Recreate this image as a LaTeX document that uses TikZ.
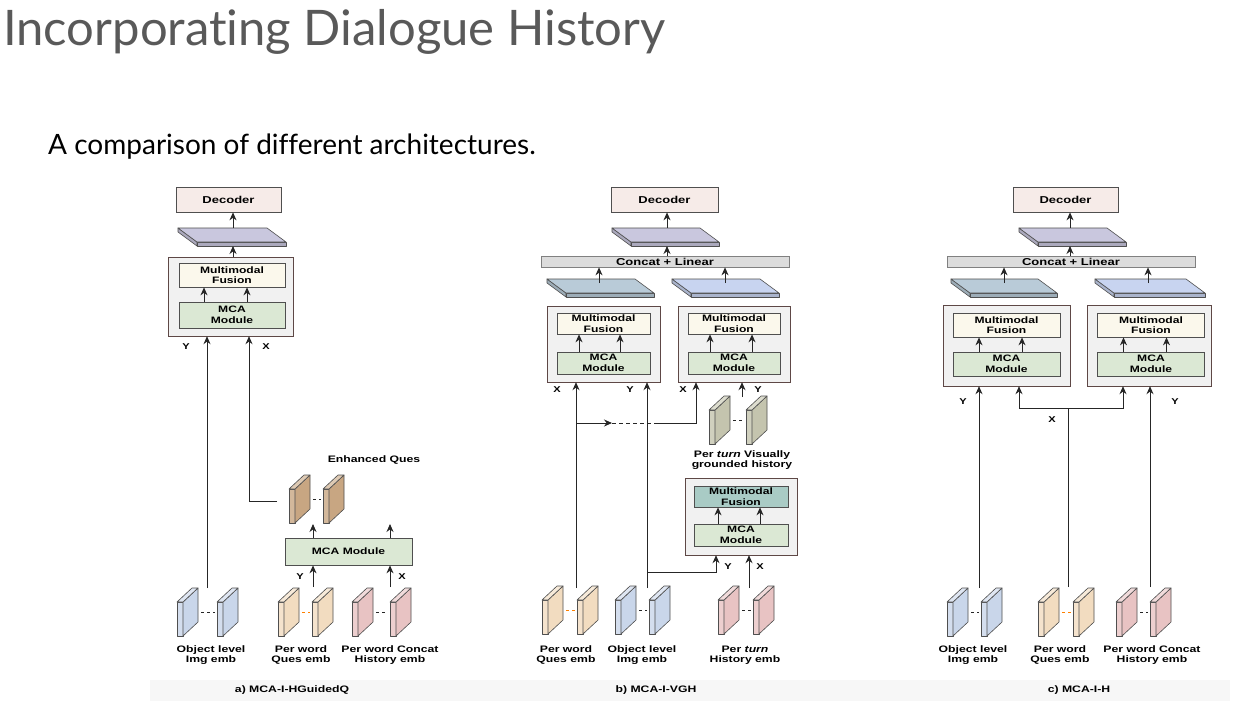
\documentclass[tikz,border=0pt]{standalone}
\usepackage{fontspec}
\setmainfont{Lato}[Ligatures=NoCommon]
\newfontfamily\figfont{Liberation Sans}[FakeStretch=1.3]
\usetikzlibrary{arrows.meta,calc}

\definecolor{titlegray}{HTML}{595959}
\definecolor{lineC}{HTML}{262626}
\definecolor{boxline}{HTML}{4F4F4F}
\definecolor{outline}{HTML}{5E4846}
\definecolor{outfill}{HTML}{F1F1F1}
\definecolor{decfill}{HTML}{F6EBE8}
\definecolor{fusfill}{HTML}{FBF8EC}
\definecolor{mcafill}{HTML}{DBE8D4}
\definecolor{tealfill}{HTML}{A9CBC5}
\definecolor{catfill}{HTML}{DCDCDC}
\definecolor{lav}{HTML}{C9C7DE}
\definecolor{slabL}{HTML}{B9CBD8}
\definecolor{slabR}{HTML}{C8D4F0}
\definecolor{imgblue}{HTML}{C9D6EA}
\definecolor{peach}{HTML}{F2DCC0}
\definecolor{histpink}{HTML}{E8C3C3}
\definecolor{enhtan}{HTML}{C8A682}
\definecolor{vgh}{HTML}{C4C4AE}
\definecolor{band}{HTML}{F7F7F7}

% flat slab: back-left x, back-right x, back y, colour
\newcommand{\hslab}[4]{%
  \filldraw[slabedge, fill=#4!85!black] (#1,#3+4) -- (#1,#3) -- (#1+19,#3+14) -- (#1+19,#3+18) -- cycle;
  \filldraw[slabedge, fill=#4!85!black] (#1+19,#3+14) -- (#2+19,#3+14) -- (#2+19,#3+18) -- (#1+19,#3+18) -- cycle;
  \filldraw[slabedge, fill=#4] (#1,#3) -- (#2,#3) -- (#2+19,#3+14) -- (#1+19,#3+14) -- cycle;
}
% upright slab: front-left x, bottom y, colour
\newcommand{\vslab}[3]{%
  \filldraw[slabedge, fill=#3!80!white] (#1,#2) -- (#1+6,#2) -- (#1+6,#2-34) -- (#1,#2-34) -- cycle;
  \filldraw[slabedge, fill=#3] (#1+6,#2) -- (#1+21,#2-14) -- (#1+21,#2-48) -- (#1+6,#2-34) -- cycle;
  \filldraw[slabedge, fill=#3!60!white] (#1,#2-34) -- (#1+6,#2-34) -- (#1+21,#2-48) -- (#1+15,#2-48) -- cycle;
}
\newcommand{\slabpair}[5]{%
  \vslab{#1}{#3}{#4}
  \vslab{#2}{#3}{#4}
  \draw[#5, line width=0.6pt, dash pattern=on 3pt off 3pt] (#1+24,#3-24) -- (#2-2,#3-24);
}

\begin{document}
\begin{tikzpicture}[x=1pt, y=-1pt,
  >={Stealth[length=8pt,width=7pt]},
  slabedge/.style={draw=boxline, line width=0.6pt, line join=round},
  arr/.style={->, draw=lineC, line width=0.9pt},
  wire/.style={draw=lineC, line width=0.9pt},
  outer/.style={draw=outline, fill=outfill, line width=0.9pt},
  blk/.style={draw=boxline, line width=0.7pt, inner sep=0pt, align=center,
    font=\figfont\bfseries\fontsize{9.3}{10.5}\selectfont},
  dec/.style={blk, fill=decfill, minimum height=25pt,
    font=\figfont\bfseries\fontsize{10}{11}\selectfont},
  fus/.style={blk, fill=fusfill},
  mca/.style={blk, fill=mcafill},
  cat/.style={blk, fill=catfill, draw=gray, minimum width=248pt, minimum height=11pt,
    font=\figfont\bfseries\fontsize{10}{11}\selectfont},
  lbl/.style={inner sep=0pt, align=center, anchor=north,
    font=\figfont\bfseries\fontsize{9.4}{10}\selectfont},
  xy/.style={inner sep=0pt, font=\figfont\bfseries\fontsize{8.5}{9}\selectfont},
  captxt/.style={inner sep=0pt, font=\figfont\bfseries\fontsize{9.4}{10}\selectfont}]

\useasboundingbox (0,0) rectangle (1255,701);
\fill[white] (0,0) rectangle (1255,701);
\fill[band] (150,680) rectangle (1230,701);

\node[anchor=base west, inner sep=0pt, text=titlegray, font=\fontsize{49}{54}\selectfont]
  (title) at (3,46) {Incorporating Dialogue History};
\node[anchor=base west, inner sep=0pt, font=\fontsize{28}{32}\selectfont]
  (subtitle) at (48,154) {A comparison of different architectures.};

%% a) MCA-I-HGuidedQ
\node[dec, minimum width=105pt] (decA) at (228.5,199.5) {Decoder};
\hslab{178}{267}{228}{lav}
\coordinate (sA) at (233,228);
\coordinate (sAb) at (233,246);
\draw[arr] (sA) -- (sA |- decA.south);
\filldraw[outer] (168,257) rectangle (293,336);
\node[minimum width=125pt, minimum height=79pt, inner sep=0pt] (outA) at (230.5,296.5) {};
\node[fus, minimum width=106pt, minimum height=24pt] (fusA) at (232,275) {Multimodal\\Fusion};
\node[mca, minimum width=106pt, minimum height=26pt] (mcaA) at (232,315) {MCA\\Module};
\draw[arr] ($(mcaA.north)+(-28,0)$) -- ($(fusA.south)+(-28,0)$);
\draw[arr] ($(mcaA.north)+(15,0)$) -- ($(fusA.south)+(15,0)$);
\draw[arr] (outA.north -| sAb) -- (sAb);

\coordinate (imgA) at (207,588);
\coordinate (enhA) at (277,501);
\draw[arr] (imgA) -- (imgA |- outA.south);
\draw[arr] (enhA) -| ($(outA.south)+(18.5,0)$);
\node[xy] at (186,347) {Y};
\node[xy] at (266,347) {X};

\node[captxt] at (374,460) {Enhanced Ques};
\slabpair{289}{323}{523}{enhtan}{lineC}
\node[mca, minimum width=127pt, minimum height=27pt] (mcaA2) at (348.5,551.5) {MCA Module};
\coordinate (enhT1) at (313,524);
\coordinate (enhT2) at (390,524);
\draw[arr] (mcaA2.north -| enhT1) -- (enhT1);
\draw[arr] (mcaA2.north -| enhT2) -- (enhT2);
\coordinate (quesA) at (313,587);
\coordinate (histA) at (390,587);
\draw[arr] (quesA) -- (quesA |- mcaA2.south);
\draw[arr] (histA) -- (histA |- mcaA2.south);
\node[xy] at (300,577) {Y};
\node[xy] at (402,577) {X};

\slabpair{177}{217}{636}{imgblue}{lineC}
\slabpair{278}{312}{636}{peach}{orange}
\slabpair{352}{390}{636}{histpink}{lineC}
\node[lbl] at (211,645.5) {Object level\\Img emb};
\node[lbl] at (301,645.5) {Per word\\Ques emb};
\node[lbl] at (390,645.5) {Per word Concat\\History emb};
\node[captxt] at (292,690) {a) MCA-I-HGuidedQ};

%% b) MCA-I-VGH
\node[dec, minimum width=107pt] (decB) at (664.5,199.5) {Decoder};
\hslab{612}{700}{228}{lav}
\coordinate (sB) at (667,228);
\coordinate (sBb) at (667,246);
\draw[arr] (sB) -- (sB |- decB.south);
\node[cat] (catB) at (665,261.5) {Concat + Linear};
\draw[arr] (catB.north -| sBb) -- (sBb);
\hslab{547}{635}{279}{slabL}
\hslab{672}{760}{279}{slabR}
\coordinate (sB1) at (599,283);
\coordinate (sB2) at (725,283);
\draw[arr] (sB1) -- (sB1 |- catB.south);
\draw[arr] (sB2) -- (sB2 |- catB.south);

\filldraw[outer] (547,306) rectangle (660,382);
\node[minimum width=113pt, minimum height=76pt, inner sep=0pt] (outB1) at (603.5,344) {};
\node[fus, minimum width=93pt, minimum height=21pt] (fusB1) at (603.5,323.5) {Multimodal\\Fusion};
\node[mca, minimum width=93pt, minimum height=22pt] (mcaB1) at (603.5,363) {MCA\\Module};
\draw[arr] ($(mcaB1.north)+(-24.5,0)$) -- ($(fusB1.south)+(-24.5,0)$);
\draw[arr] ($(mcaB1.north)+(16.5,0)$) -- ($(fusB1.south)+(16.5,0)$);

\filldraw[outer] (678,306) rectangle (790,382);
\node[minimum width=112pt, minimum height=76pt, inner sep=0pt] (outB2) at (734,344) {};
\node[fus, minimum width=92pt, minimum height=21pt] (fusB2) at (734,323.5) {Multimodal\\Fusion};
\node[mca, minimum width=92pt, minimum height=22pt] (mcaB2) at (734,363) {MCA\\Module};
\draw[arr] ($(mcaB2.north)+(-24,0)$) -- ($(fusB2.south)+(-24,0)$);
\draw[arr] ($(mcaB2.north)+(18,0)$) -- ($(fusB2.south)+(18,0)$);

\coordinate (quesB) at (576,588);
\coordinate (imgB) at (647,588);
\draw[arr] (quesB) -- (quesB |- outB1.south);
\draw[arr] (imgB) -- (imgB |- outB1.south);
\node[xy] at (557,390) {X};
\node[xy] at (630,390) {Y};

\coordinate (jB) at (576,423);
\coordinate (kB) at (696,423);
\draw[arr] (jB) -- ($(jB)+(36,0)$);
\draw[wire, dash pattern=on 4pt off 3pt] ($(jB)+(36,0)$) -- ($(kB)+(-38,0)$);
\draw[arr] ($(kB)+(-38,0)$) -- (kB) -- (kB |- outB2.south);
\coordinate (vghB) at (742,397);
\draw[arr] (vghB) -- (vghB |- outB2.south);
\node[xy] at (683,390) {X};
\node[xy] at (758,390) {Y};

\slabpair{709}{746}{444}{vgh}{lineC}
\node[lbl] at (742,450.5) {Per \textit{turn} Visually\\grounded history};

\filldraw[outer] (685,478) rectangle (797,555);
\node[minimum width=112pt, minimum height=77pt, inner sep=0pt] (outB3) at (741,516.5) {};
\node[fus, fill=tealfill, minimum width=94pt, minimum height=21pt] (fusB3) at (741,496.5) {Multimodal\\Fusion};
\node[mca, minimum width=94pt, minimum height=22pt] (mcaB3) at (741,535) {MCA\\Module};
\draw[arr] ($(mcaB3.north)+(-23,0)$) -- ($(fusB3.south)+(-23,0)$);
\draw[arr] ($(mcaB3.north)+(19,0)$) -- ($(fusB3.south)+(19,0)$);

\coordinate (mB) at (647,572);
\draw[arr] (mB) -| ($(outB3.south)+(-25,0)$);
\coordinate (histB) at (749,588);
\draw[arr] (histB) -- (histB |- outB3.south);
\node[xy] at (728,567) {Y};
\node[xy] at (760,567) {X};

\slabpair{542}{577}{634}{peach}{orange}
\slabpair{615}{649}{634}{imgblue}{lineC}
\slabpair{718}{753}{634}{histpink}{lineC}
\node[lbl] at (566,645.5) {Per word\\Ques emb};
\node[lbl] at (642,645.5) {Object level\\Img emb};
\node[lbl] at (745,645.5) {Per \textit{turn}\\History emb};
\node[captxt] at (656,690) {b) MCA-I-VGH};

%% c) MCA-I-H
\node[dec, minimum width=105pt] (decC) at (1065.5,199.5) {Decoder};
\hslab{1019}{1107}{228}{lav}
\coordinate (sC) at (1070,228);
\coordinate (sCb) at (1070,246);
\draw[arr] (sC) -- (sC |- decC.south);
\node[cat] (catC) at (1071,261.5) {Concat + Linear};
\draw[arr] (catC.north -| sCb) -- (sCb);
\hslab{951}{1038}{279}{slabL}
\hslab{1095}{1186}{279}{slabR}
\coordinate (sC1) at (1004,283);
\coordinate (sC2) at (1148,283);
\draw[arr] (sC1) -- (sC1 |- catC.south);
\draw[arr] (sC2) -- (sC2 |- catC.south);

\filldraw[outer] (943,305) rectangle (1070,386);
\node[minimum width=127pt, minimum height=81pt, inner sep=0pt] (outC1) at (1006.5,345.5) {};
\node[fus, minimum width=107pt, minimum height=24pt] (fusC1) at (1006.5,325) {Multimodal\\Fusion};
\node[mca, minimum width=107pt, minimum height=24pt] (mcaC1) at (1006.5,364) {MCA\\Module};
\draw[arr] ($(mcaC1.north)+(-27.5,0)$) -- ($(fusC1.south)+(-27.5,0)$);
\draw[arr] ($(mcaC1.north)+(15.5,0)$) -- ($(fusC1.south)+(15.5,0)$);

\filldraw[outer] (1087,305) rectangle (1211,386);
\node[minimum width=124pt, minimum height=81pt, inner sep=0pt] (outC2) at (1149,345.5) {};
\node[fus, minimum width=107pt, minimum height=24pt] (fusC2) at (1151,325) {Multimodal\\Fusion};
\node[mca, minimum width=107pt, minimum height=24pt] (mcaC2) at (1151,364) {MCA\\Module};
\draw[arr] ($(mcaC2.north)+(-27.5,0)$) -- ($(fusC2.south)+(-27.5,0)$);
\draw[arr] ($(mcaC2.north)+(15.5,0)$) -- ($(fusC2.south)+(15.5,0)$);

\coordinate (imgC) at (979,588);
\coordinate (quesC) at (1068,587);
\coordinate (histC) at (1150,587);
\coordinate (jC) at (1068,408);
\draw[arr] (imgC) -- (imgC |- outC1.south);
\draw[arr] (histC) -- (histC |- outC2.south);
\draw[wire] (quesC) -- (jC);
\draw[arr] (jC) -| ($(outC1.south)+(12.5,0)$);
\draw[arr] (jC) -| ($(outC2.south)+(-26,0)$);
\node[xy] at (963,402) {Y};
\node[xy] at (1175,402) {Y};
\node[xy] at (1052,420) {X};

\slabpair{947}{981}{636}{imgblue}{lineC}
\slabpair{1038}{1073}{636}{peach}{orange}
\slabpair{1116}{1150}{636}{histpink}{lineC}
\node[lbl] at (973,645.5) {Object level\\Img emb};
\node[lbl] at (1060,645.5) {Per word\\Ques emb};
\node[lbl] at (1152,645.5) {Per word Concat\\History emb};
\node[captxt] at (1079,690) {c) MCA-I-H};

\end{tikzpicture}
\end{document}
